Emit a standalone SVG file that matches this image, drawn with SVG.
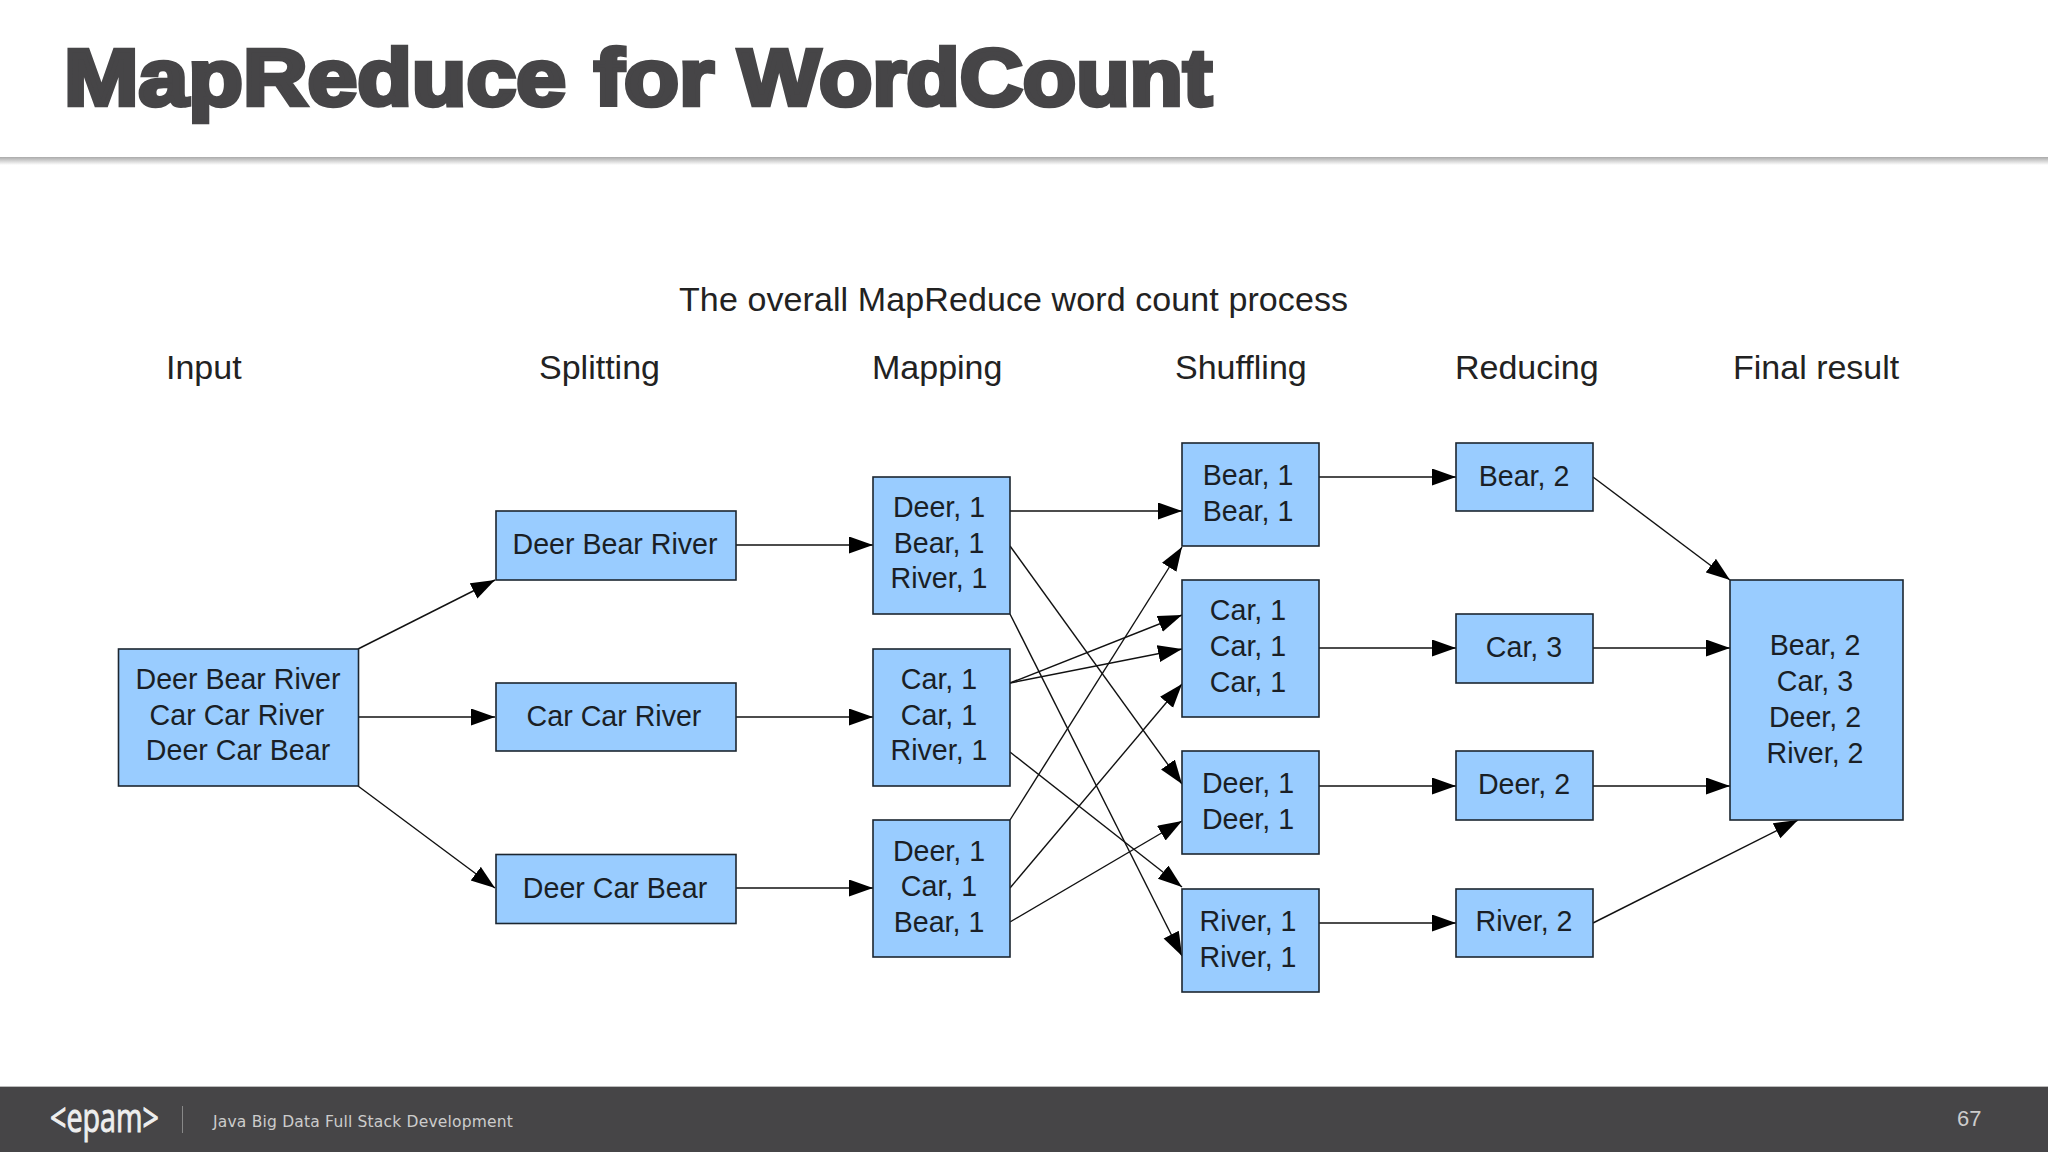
<svg xmlns="http://www.w3.org/2000/svg" width="2048" height="1152" viewBox="0 0 2048 1152">
<style>
.b{fill:#99ccff;stroke:#1c2630;stroke-width:1.6}
.t{font-family:"Liberation Sans",Arial,sans-serif;font-size:28.6px;fill:#1a1f26;text-anchor:middle}
.h{font-family:"Liberation Sans",Arial,sans-serif;font-size:34px;fill:#222;}
.c line{stroke:#111;stroke-width:1.4;marker-end:url(#a)}
</style>
<defs>
<marker id="a" markerUnits="userSpaceOnUse" markerWidth="26" markerHeight="18" refX="24" refY="8.500" orient="auto"><path d="M0 0L24 8.500L0 17z" fill="#000"/></marker>
<linearGradient id="s" x1="0" y1="0" x2="0" y2="1"><stop offset="0" stop-color="#aaa"/><stop offset="1" stop-color="#fff"/></linearGradient>
</defs>
<rect width="2048" height="1152" fill="#fff"/>
<g id="header">
<rect y="157" width="2048" height="8" fill="url(#s)"/>
<text y="105" font-family="Liberation Sans,Arial,sans-serif" font-weight="700" font-size="80" fill="#464547" stroke="#464547" stroke-width="4.5" lengthAdjust="spacingAndGlyphs"><tspan x="64" textLength="502" lengthAdjust="spacingAndGlyphs">MapReduce</tspan> <tspan x="594" textLength="120" lengthAdjust="spacingAndGlyphs">for</tspan> <tspan x="738" textLength="474" lengthAdjust="spacingAndGlyphs">WordCount</tspan></text>
</g>
<g id="labels">
<text class="h" x="679" y="311" textLength="669" font-size="35">The overall MapReduce word count process</text>
<text class="h" x="166" y="379">Input</text>
<text class="h" x="539" y="379">Splitting</text>
<text class="h" x="872" y="379">Mapping</text>
<text class="h" x="1175" y="379">Shuffling</text>
<text class="h" x="1455" y="379">Reducing</text>
<text class="h" x="1733" y="379">Final result</text>
</g>
<g class="c" id="connectors">
<line x1="358" y1="649" x2="495" y2="580"/>
<line x1="358" y1="717" x2="495" y2="717"/>
<line x1="358" y1="786" x2="495" y2="888"/>
<line x1="736" y1="545" x2="873" y2="545"/>
<line x1="736" y1="717" x2="873" y2="717"/>
<line x1="736" y1="888" x2="873" y2="888"/>
<line x1="1010" y1="511" x2="1182" y2="511"/>
<line x1="1010" y1="546" x2="1182" y2="784"/>
<line x1="1010" y1="614" x2="1182" y2="956"/>
<line x1="1010" y1="683" x2="1182" y2="615"/>
<line x1="1010" y1="683" x2="1182" y2="649"/>
<line x1="1010" y1="752" x2="1182" y2="887"/>
<line x1="1010" y1="820" x2="1182" y2="547"/>
<line x1="1010" y1="888" x2="1182" y2="684"/>
<line x1="1010" y1="922" x2="1182" y2="821"/>
<line x1="1319" y1="477" x2="1456" y2="477"/>
<line x1="1319" y1="648" x2="1456" y2="648"/>
<line x1="1319" y1="786" x2="1456" y2="786"/>
<line x1="1319" y1="923" x2="1456" y2="923"/>
<line x1="1593" y1="477" x2="1730" y2="580"/>
<line x1="1593" y1="648" x2="1730" y2="648"/>
<line x1="1593" y1="786" x2="1730" y2="786"/>
<line x1="1593" y1="923" x2="1798" y2="820"/>
</g>
<g id="input"><rect class="b" x="118.500" y="649" width="240" height="137"/><text class="t"><tspan x="238" y="689">Deer Bear River</tspan><tspan x="237" y="725">Car Car River</tspan><tspan x="238" y="760">Deer Car Bear</tspan></text></g>
<g id="split1"><rect class="b" x="496" y="511" width="240" height="69"/><text class="t" x="615" y="554">Deer Bear River</text></g>
<g id="split2"><rect class="b" x="496" y="683" width="240" height="68"/><text class="t" x="614" y="726">Car Car River</text></g>
<g id="split3"><rect class="b" x="496" y="854.500" width="240" height="69"/><text class="t" x="615" y="898">Deer Car Bear</text></g>
<g id="map1"><rect class="b" x="873" y="477" width="137" height="137"/><text class="t"><tspan x="939" y="517">Deer, 1</tspan><tspan x="939" y="553">Bear, 1</tspan><tspan x="939" y="588">River, 1</tspan></text></g>
<g id="map2"><rect class="b" x="873" y="649" width="137" height="137"/><text class="t"><tspan x="939" y="689">Car, 1</tspan><tspan x="939" y="725">Car, 1</tspan><tspan x="939" y="760">River, 1</tspan></text></g>
<g id="map3"><rect class="b" x="873" y="820" width="137" height="137"/><text class="t"><tspan x="939" y="861">Deer, 1</tspan><tspan x="939" y="896">Car, 1</tspan><tspan x="939" y="932">Bear, 1</tspan></text></g>
<g id="shuffle1"><rect class="b" x="1182" y="443" width="137" height="103"/><text class="t"><tspan x="1248" y="485">Bear, 1</tspan><tspan x="1248" y="521">Bear, 1</tspan></text></g>
<g id="shuffle2"><rect class="b" x="1182" y="580" width="137" height="137"/><text class="t"><tspan x="1248" y="620">Car, 1</tspan><tspan x="1248" y="656">Car, 1</tspan><tspan x="1248" y="692">Car, 1</tspan></text></g>
<g id="shuffle3"><rect class="b" x="1182" y="751" width="137" height="103"/><text class="t"><tspan x="1248" y="793">Deer, 1</tspan><tspan x="1248" y="829">Deer, 1</tspan></text></g>
<g id="shuffle4"><rect class="b" x="1182" y="889" width="137" height="103"/><text class="t"><tspan x="1248" y="931">River, 1</tspan><tspan x="1248" y="967">River, 1</tspan></text></g>
<g id="reduce1"><rect class="b" x="1456" y="443" width="137" height="68"/><text class="t" x="1524" y="486">Bear, 2</text></g>
<g id="reduce2"><rect class="b" x="1456" y="614" width="137" height="69"/><text class="t" x="1524" y="657">Car, 3</text></g>
<g id="reduce3"><rect class="b" x="1456" y="751" width="137" height="69"/><text class="t" x="1524" y="794">Deer, 2</text></g>
<g id="reduce4"><rect class="b" x="1456" y="889" width="137" height="68"/><text class="t" x="1524" y="931">River, 2</text></g>
<g id="final"><rect class="b" x="1730" y="580" width="173" height="240"/><text class="t"><tspan x="1815" y="655">Bear, 2</tspan><tspan x="1815" y="691">Car, 3</tspan><tspan x="1815" y="727">Deer, 2</tspan><tspan x="1815" y="763">River, 2</tspan></text></g>
<g id="footer">
<rect y="1087" width="2048" height="65" fill="#464547"/>
<rect y="1086" width="2048" height="1" fill="#bbb"/>
<text transform="translate(50,1132) scale(0.7,1)" font-family="Open Sans,sans-serif" font-size="41" fill="#eee" stroke="#eee" stroke-width="1">&lt;epam&gt;</text>
<rect x="182" y="1106" width="1" height="27" fill="#888"/>
<text x="213" y="1127" font-family="DejaVu Sans,sans-serif" font-size="15.5" letter-spacing="0.2" fill="#ccc">Java Big Data Full Stack Development</text>
<text x="1957" y="1126" font-family="Liberation Sans,sans-serif" font-size="22" fill="#ccc">67</text>
</g>
</svg>
